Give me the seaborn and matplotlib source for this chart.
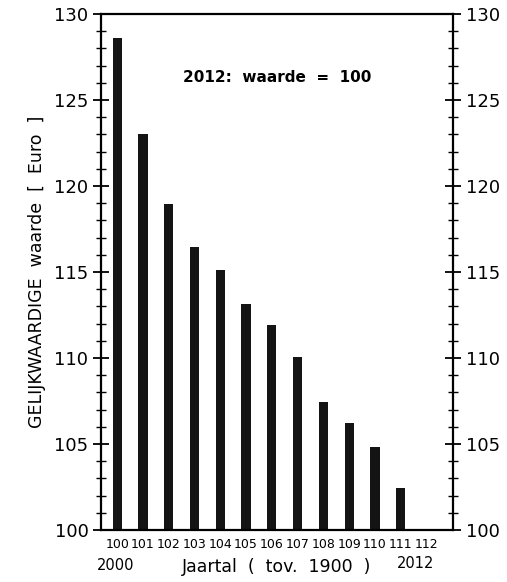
import matplotlib
matplotlib.use("Agg")
import matplotlib.pyplot as plt
import seaborn as sns
import pandas as pd
from matplotlib.ticker import MultipleLocator

sns.set_style("white")
plt.rcParams['font.family'] = ['DejaVu Sans']
plt.rcParams['text.color'] = 'black'
plt.rcParams['axes.labelcolor'] = 'black'
plt.rcParams['xtick.color'] = 'black'
plt.rcParams['ytick.color'] = 'black'

jaren = ["100", "101", "102", "103", "104", "105", "106", "107",
         "108", "109", "110", "111", "112"]
waarde = [128.6, 123.0, 118.95, 116.45, 115.1, 113.15, 111.9, 110.05,
          107.45, 106.2, 104.85, 102.45, 100.0]
y_ticks = [100, 105, 110, 115, 120, 125, 130]

df = pd.DataFrame({"jaar": jaren, "waarde": waarde})

fig = plt.figure(figsize=(5.07, 5.82), dpi=100)
ax = fig.add_axes([101/507, 1-530/582, (453-101)/507, (530-14)/582])

sns.barplot(data=df, x="jaar", y="waarde", color="#141414", width=0.36,
            saturation=1, ax=ax, edgecolor="none")

ax.set_ylim(100, 130)
ax.set_xlim(-0.63, 13.03)
ax.set_yticks(y_ticks)
ax.yaxis.set_minor_locator(MultipleLocator(1))
ax.tick_params(axis="y", which="major", direction="inout", length=12, width=1.3,
               left=True, right=True, labelleft=True, labelright=True,
               labelsize=13, pad=3, colors="black")
ax.tick_params(axis="y", which="minor", direction="inout", length=7, width=1.0,
               left=True, right=True, colors="black")
ax.tick_params(axis="x", which="both", length=0, labelsize=9, pad=6,
               colors="black")
for sp in ax.spines.values():
    sp.set_visible(True)
    sp.set_linewidth(1.6)
    sp.set_color("black")

ax.set_xlabel("Jaartal  (  tov.  1900  )", fontsize=12.5, labelpad=5)
ax.set_ylabel("GELIJKWAARDIGE  waarde  [  Euro  ]", fontsize=12.5, labelpad=6)

ax.text(0.5, 0.877, "2012:  waarde  =  100", transform=ax.transAxes,
        ha="center", va="center", fontsize=11, fontweight="bold")

fig.text(116/507, 1-565/582, "2000", ha="center", va="center", fontsize=10.5)
fig.text(416/507, 1-564/582, "2012", ha="center", va="center", fontsize=10.5)

fig.savefig("out.png", dpi=100)
